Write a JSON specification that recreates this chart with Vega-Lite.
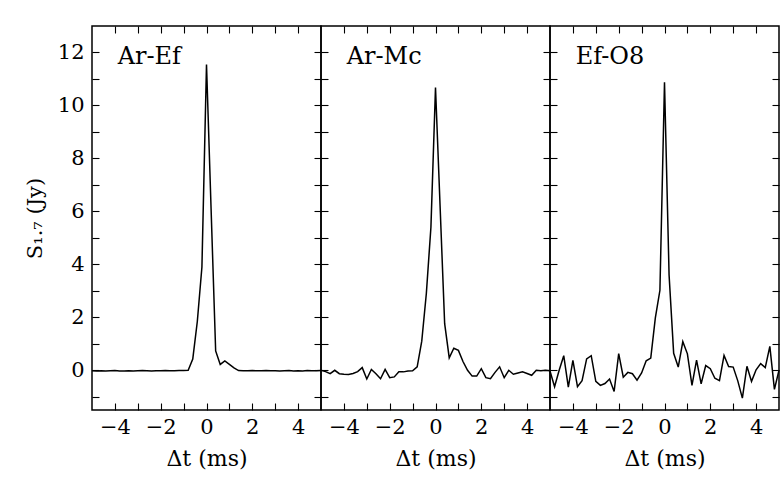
{
  "$schema": "https://vega.github.io/schema/vega-lite/v6.json",
  "background": "white",
  "padding": {"left": 23, "top": 24, "right": 5, "bottom": 5},
  "spacing": 0,
  "bounds": "flush",
  "config": {
    "view": {"stroke": "black", "strokeWidth": 1.5},
    "font": "DejaVu Serif",
    "text": {"font": "DejaVu Serif"},
    "axis": {
      "domain": false,
      "grid": false,
      "tickColor": "black",
      "tickWidth": 1.1,
      "tickSize": -7,
      "labelColor": "black",
      "titleColor": "black",
      "labelFont": "DejaVu Serif",
      "titleFont": "DejaVu Serif",
      "labelFontSize": 21,
      "titleFontSize": 22,
      "titleFontWeight": "normal",
      "labelFlush": false,
      "labelOverlap": false
    }
  },
  "datasets": {
    "arEf": [
      {"t": -5.0, "s": -0.02}, {"t": -4.8, "s": -0.03}, {"t": -4.6, "s": -0.02}, {"t": -4.4, "s": -0.03}, {"t": -4.2, "s": -0.02},
      {"t": -4.0, "s": -0.01}, {"t": -3.8, "s": -0.03}, {"t": -3.6, "s": -0.03}, {"t": -3.4, "s": -0.02}, {"t": -3.2, "s": -0.03},
      {"t": -3.0, "s": -0.02}, {"t": -2.8, "s": -0.01}, {"t": -2.6, "s": -0.02}, {"t": -2.4, "s": -0.03}, {"t": -2.2, "s": -0.02},
      {"t": -2.0, "s": -0.02}, {"t": -1.8, "s": -0.01}, {"t": -1.6, "s": -0.02}, {"t": -1.4, "s": -0.02}, {"t": -1.2, "s": -0.01},
      {"t": -1.0, "s": -0.01}, {"t": -0.8, "s": 0.0}, {"t": -0.6, "s": 0.42}, {"t": -0.4, "s": 1.85}, {"t": -0.2, "s": 3.9},
      {"t": 0.0, "s": 11.55}, {"t": 0.2, "s": 6.1}, {"t": 0.4, "s": 0.73}, {"t": 0.6, "s": 0.22}, {"t": 0.8, "s": 0.35},
      {"t": 1.0, "s": 0.22}, {"t": 1.2, "s": 0.09}, {"t": 1.4, "s": -0.01}, {"t": 1.6, "s": -0.02}, {"t": 1.8, "s": -0.02},
      {"t": 2.0, "s": -0.01}, {"t": 2.2, "s": -0.02}, {"t": 2.4, "s": -0.02}, {"t": 2.6, "s": -0.01}, {"t": 2.8, "s": -0.02},
      {"t": 3.0, "s": -0.02}, {"t": 3.2, "s": -0.03}, {"t": 3.4, "s": -0.02}, {"t": 3.6, "s": -0.01}, {"t": 3.8, "s": -0.03},
      {"t": 4.0, "s": -0.02}, {"t": 4.2, "s": -0.03}, {"t": 4.4, "s": -0.01}, {"t": 4.6, "s": -0.02}, {"t": 4.8, "s": -0.02},
      {"t": 5.0, "s": -0.01}
    ],
    "arMc": [
      {"t": -5.0, "s": 0.0}, {"t": -4.8, "s": -0.05}, {"t": -4.6, "s": -0.13}, {"t": -4.4, "s": 0.0}, {"t": -4.2, "s": -0.13},
      {"t": -4.0, "s": -0.15}, {"t": -3.8, "s": -0.16}, {"t": -3.6, "s": -0.12}, {"t": -3.4, "s": -0.05}, {"t": -3.2, "s": 0.1},
      {"t": -3.0, "s": -0.33}, {"t": -2.8, "s": 0.03}, {"t": -2.6, "s": -0.13}, {"t": -2.4, "s": -0.32}, {"t": -2.2, "s": 0.03},
      {"t": -2.0, "s": -0.28}, {"t": -1.8, "s": -0.25}, {"t": -1.6, "s": -0.06}, {"t": -1.4, "s": -0.06}, {"t": -1.2, "s": -0.03},
      {"t": -1.0, "s": -0.02}, {"t": -0.8, "s": 0.13}, {"t": -0.6, "s": 1.1}, {"t": -0.4, "s": 2.9}, {"t": -0.2, "s": 5.4},
      {"t": 0.0, "s": 10.68}, {"t": 0.2, "s": 6.2}, {"t": 0.4, "s": 1.76}, {"t": 0.6, "s": 0.47}, {"t": 0.8, "s": 0.83},
      {"t": 1.0, "s": 0.75}, {"t": 1.2, "s": 0.33}, {"t": 1.4, "s": 0.0}, {"t": 1.6, "s": -0.22}, {"t": 1.8, "s": -0.22},
      {"t": 2.0, "s": 0.06}, {"t": 2.2, "s": -0.28}, {"t": 2.4, "s": -0.32}, {"t": 2.6, "s": -0.08}, {"t": 2.8, "s": 0.13},
      {"t": 3.0, "s": -0.28}, {"t": 3.2, "s": 0.0}, {"t": 3.4, "s": -0.15}, {"t": 3.6, "s": -0.1}, {"t": 3.8, "s": -0.06},
      {"t": 4.0, "s": -0.12}, {"t": 4.2, "s": -0.19}, {"t": 4.4, "s": 0.0}, {"t": 4.6, "s": -0.02}, {"t": 4.8, "s": 0.0},
      {"t": 5.0, "s": -0.02}
    ],
    "efO8": [
      {"t": -5.0, "s": -0.03}, {"t": -4.8, "s": -0.62}, {"t": -4.6, "s": 0.0}, {"t": -4.4, "s": 0.55}, {"t": -4.2, "s": -0.64},
      {"t": -4.0, "s": 0.37}, {"t": -3.8, "s": -0.62}, {"t": -3.6, "s": -0.39}, {"t": -3.4, "s": 0.43}, {"t": -3.2, "s": 0.55},
      {"t": -3.0, "s": -0.42}, {"t": -2.8, "s": -0.57}, {"t": -2.6, "s": -0.5}, {"t": -2.4, "s": -0.33}, {"t": -2.2, "s": -0.8},
      {"t": -2.0, "s": 0.63}, {"t": -1.8, "s": -0.26}, {"t": -1.6, "s": -0.08}, {"t": -1.4, "s": -0.13}, {"t": -1.2, "s": -0.37},
      {"t": -1.0, "s": -0.1}, {"t": -0.8, "s": 0.36}, {"t": -0.6, "s": 0.46}, {"t": -0.4, "s": 1.98}, {"t": -0.2, "s": 3.02},
      {"t": 0.0, "s": 10.88}, {"t": 0.2, "s": 3.6}, {"t": 0.4, "s": 0.64}, {"t": 0.6, "s": 0.12}, {"t": 0.8, "s": 1.08},
      {"t": 1.0, "s": 0.62}, {"t": 1.2, "s": -0.57}, {"t": 1.4, "s": 0.38}, {"t": 1.6, "s": -0.51}, {"t": 1.8, "s": 0.18},
      {"t": 2.0, "s": 0.06}, {"t": 2.2, "s": -0.3}, {"t": 2.4, "s": -0.39}, {"t": 2.6, "s": 0.56}, {"t": 2.8, "s": 0.14},
      {"t": 3.0, "s": 0.12}, {"t": 3.2, "s": -0.4}, {"t": 3.4, "s": -1.05}, {"t": 3.6, "s": 0.15}, {"t": 3.8, "s": -0.42},
      {"t": 4.0, "s": 0.02}, {"t": 4.2, "s": 0.25}, {"t": 4.4, "s": 0.1}, {"t": 4.6, "s": 0.9}, {"t": 4.8, "s": -0.72},
      {"t": 5.0, "s": 0.0}
    ]
  },
  "hconcat": [
    {
      "width": 229, "height": 384,
      "resolve": {"axis": {"x": "independent", "y": "independent"}},
      "layer": [
        {
          "data": {"name": "arEf"},
          "mark": {"type": "line", "color": "black", "strokeWidth": 1.5},
          "encoding": {
            "x": {"field": "t", "type": "quantitative", "scale": {"domain": [-5, 5], "nice": false, "zero": false},
              "axis": {"orient": "bottom", "values": [-4, -3, -2, -1, 0, 1, 2, 3, 4], "labelExpr": "datum.value % 2 === 0 ? datum.label : ''", "labelPadding": 13, "title": "Δt (ms)", "titlePadding": 11}},
            "y": {"field": "s", "type": "quantitative", "scale": {"domain": [-1.5, 13], "nice": false, "zero": false},
              "axis": {"orient": "left", "values": [-1, 0, 1, 2, 3, 4, 5, 6, 7, 8, 9, 10, 11, 12], "labelExpr": "datum.value % 2 === 0 ? datum.label : ''", "labelPadding": 15, "title": "S₁.₇ (Jy)", "titleFontSize": 21, "titlePadding": 12}}
          }
        },
        {
          "data": {"values": [{"t": -3.88, "s": 11.55, "label": "Ar-Ef"}]},
          "mark": {"type": "text", "align": "left", "baseline": "alphabetic", "fontSize": 24, "color": "black", "font": "DejaVu Serif"},
          "encoding": {
            "x": {"field": "t", "type": "quantitative", "scale": {"domain": [-5, 5], "nice": false, "zero": false},
              "axis": {"orient": "top", "values": [-4, -3, -2, -1, 0, 1, 2, 3, 4], "labels": false, "title": null, "minExtent": 0, "maxExtent": 0}},
            "y": {"field": "s", "type": "quantitative", "scale": {"domain": [-1.5, 13], "nice": false, "zero": false},
              "axis": {"orient": "right", "values": [-1, 0, 1, 2, 3, 4, 5, 6, 7, 8, 9, 10, 11, 12], "labels": false, "title": null, "minExtent": 0, "maxExtent": 0}},
            "text": {"field": "label"}
          }
        }
      ]
    },
    {
      "width": 229, "height": 384,
      "resolve": {"axis": {"x": "independent", "y": "independent"}},
      "layer": [
        {
          "data": {"name": "arMc"},
          "mark": {"type": "line", "color": "black", "strokeWidth": 1.5},
          "encoding": {
            "x": {"field": "t", "type": "quantitative", "scale": {"domain": [-5, 5], "nice": false, "zero": false},
              "axis": {"orient": "bottom", "values": [-4, -3, -2, -1, 0, 1, 2, 3, 4], "labelExpr": "datum.value % 2 === 0 ? datum.label : ''", "labelPadding": 13, "title": "Δt (ms)", "titlePadding": 11}},
            "y": {"field": "s", "type": "quantitative", "scale": {"domain": [-1.5, 13], "nice": false, "zero": false},
              "axis": {"orient": "left", "values": [-1, 0, 1, 2, 3, 4, 5, 6, 7, 8, 9, 10, 11, 12], "labels": false, "title": null, "minExtent": 0, "maxExtent": 0}}
          }
        },
        {
          "data": {"values": [{"t": -3.88, "s": 11.55, "label": "Ar-Mc"}]},
          "mark": {"type": "text", "align": "left", "baseline": "alphabetic", "fontSize": 24, "color": "black", "font": "DejaVu Serif"},
          "encoding": {
            "x": {"field": "t", "type": "quantitative", "scale": {"domain": [-5, 5], "nice": false, "zero": false},
              "axis": {"orient": "top", "values": [-4, -3, -2, -1, 0, 1, 2, 3, 4], "labels": false, "title": null, "minExtent": 0, "maxExtent": 0}},
            "y": {"field": "s", "type": "quantitative", "scale": {"domain": [-1.5, 13], "nice": false, "zero": false},
              "axis": {"orient": "right", "values": [-1, 0, 1, 2, 3, 4, 5, 6, 7, 8, 9, 10, 11, 12], "labels": false, "title": null, "minExtent": 0, "maxExtent": 0}},
            "text": {"field": "label"}
          }
        }
      ]
    },
    {
      "width": 229, "height": 384,
      "resolve": {"axis": {"x": "independent", "y": "independent"}},
      "layer": [
        {
          "data": {"name": "efO8"},
          "mark": {"type": "line", "color": "black", "strokeWidth": 1.5},
          "encoding": {
            "x": {"field": "t", "type": "quantitative", "scale": {"domain": [-5, 5], "nice": false, "zero": false},
              "axis": {"orient": "bottom", "values": [-4, -3, -2, -1, 0, 1, 2, 3, 4], "labelExpr": "datum.value % 2 === 0 ? datum.label : ''", "labelPadding": 13, "title": "Δt (ms)", "titlePadding": 11}},
            "y": {"field": "s", "type": "quantitative", "scale": {"domain": [-1.5, 13], "nice": false, "zero": false},
              "axis": {"orient": "left", "values": [-1, 0, 1, 2, 3, 4, 5, 6, 7, 8, 9, 10, 11, 12], "labels": false, "title": null, "minExtent": 0, "maxExtent": 0}}
          }
        },
        {
          "data": {"values": [{"t": -3.88, "s": 11.55, "label": "Ef-O8"}]},
          "mark": {"type": "text", "align": "left", "baseline": "alphabetic", "fontSize": 24, "color": "black", "font": "DejaVu Serif"},
          "encoding": {
            "x": {"field": "t", "type": "quantitative", "scale": {"domain": [-5, 5], "nice": false, "zero": false},
              "axis": {"orient": "top", "values": [-4, -3, -2, -1, 0, 1, 2, 3, 4], "labels": false, "title": null, "minExtent": 0, "maxExtent": 0}},
            "y": {"field": "s", "type": "quantitative", "scale": {"domain": [-1.5, 13], "nice": false, "zero": false},
              "axis": {"orient": "right", "values": [-1, 0, 1, 2, 3, 4, 5, 6, 7, 8, 9, 10, 11, 12], "labels": false, "title": null, "minExtent": 0, "maxExtent": 0}},
            "text": {"field": "label"}
          }
        }
      ]
    }
  ]
}
